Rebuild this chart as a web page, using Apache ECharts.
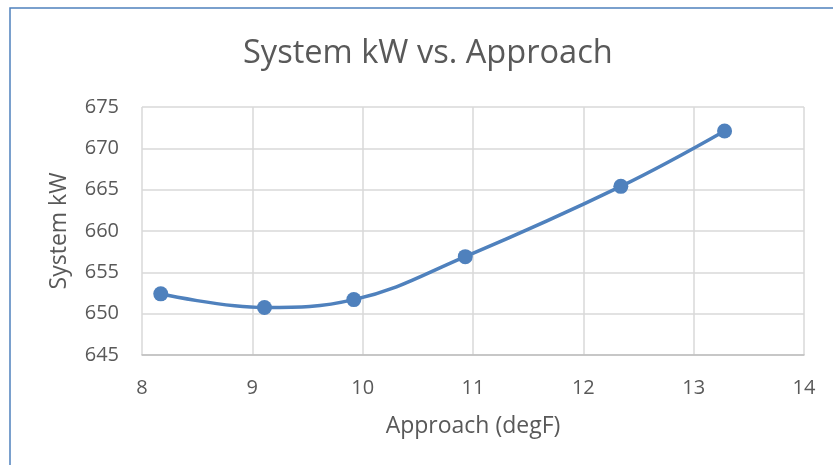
<!DOCTYPE html>
<html>
<head>
<meta charset="utf-8">
<script src="https://cdn.jsdelivr.net/npm/echarts@6/dist/echarts.min.js"></script>
<style>
    html, body { margin: 0; padding: 0; background: #fff; }
    #chart { width: 833px; height: 465px; }
</style>
</head>
<body>
<div id="chart"></div>
<script>
    // data
    const approach = [8.17, 9.11, 9.92, 10.93, 12.34, 13.28];
    const systemKw = [652.4, 650.75, 651.7, 656.9, 665.4, 672.1];
    const xTicks = { min: 8, max: 14, interval: 1 };
    const yTicks = { min: 645, max: 675, interval: 5 };

    let myChart = echarts.init(document.getElementById('chart'));
    const textColor = '#595959';
    const font = '"Open Sans", sans-serif';

    let option = {
        animation: false,
        title: {
            text: 'System kW vs. Approach',
            left: 238,
            top: 32,
            textStyle: { fontFamily: font, fontSize: 32.6, fontWeight: 'normal', color: textColor }
        },
        graphic: [{
            type: 'rect',
            shape: { x: 10, y: 8, width: 900, height: 600 },
            style: { fill: 'none', stroke: '#4f81bd', lineWidth: 1.5 },
            silent: true
        }],
        grid: { left: 142, right: 29, top: 107, bottom: 110 },
        xAxis: {
            type: 'value',
            min: xTicks.min, max: xTicks.max, interval: xTicks.interval,
            name: 'Approach (degF)',
            nameLocation: 'middle',
            nameGap: 60,
            nameTextStyle: { fontFamily: font, fontSize: 23, color: textColor },
            axisLine: { show: true, lineStyle: { color: '#bfbfbf', width: 1.5 } },
            axisTick: { show: false },
            axisLabel: { fontFamily: font, fontSize: 20, color: textColor, margin: 23 },
            splitLine: { show: true, lineStyle: { color: '#d9d9d9', width: 1.5 } }
        },
        yAxis: {
            type: 'value',
            min: yTicks.min, max: yTicks.max, interval: yTicks.interval,
            name: 'System kW',
            nameLocation: 'middle',
            nameGap: 71,
            nameTextStyle: { fontFamily: font, fontSize: 23, color: textColor },
            axisLine: { show: false },
            axisTick: { show: false },
            axisLabel: { fontFamily: font, fontSize: 20, color: textColor, margin: 23 },
            splitLine: { show: true, lineStyle: { color: '#d9d9d9', width: 1.5 } }
        },
        series: [{
            type: 'line',
            data: approach.map((x, i) => [x, systemKw[i]]),
            smooth: 0.4,
            symbol: 'circle',
            symbolSize: 15,
            itemStyle: { color: '#4f81bd' },
            lineStyle: { color: '#4f81bd', width: 3.5 }
        }]
    };
    myChart.setOption(option);
</script>
</body>
</html>
